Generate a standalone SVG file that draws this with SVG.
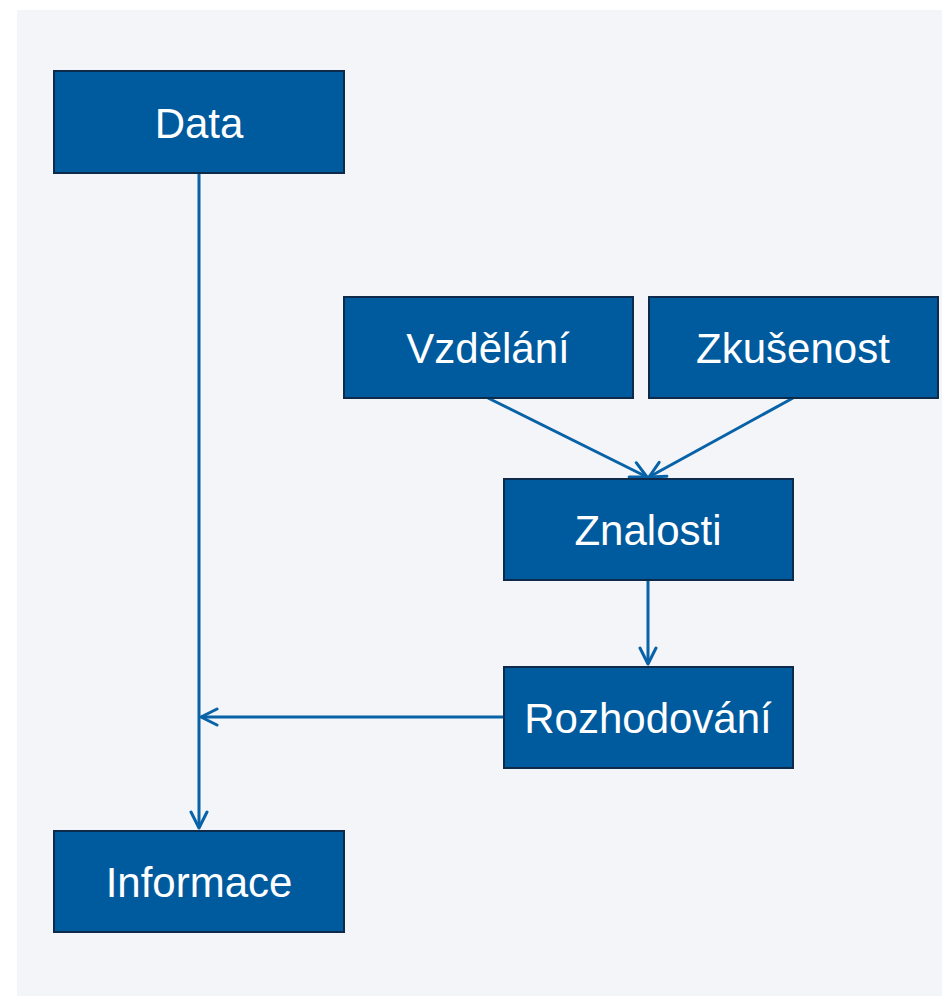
<svg xmlns="http://www.w3.org/2000/svg" width="942" height="996" viewBox="0 0 942 996">
<defs>
<style>
.box{fill:#005a9e;stroke:#0d2a4a;stroke-width:2}
.lbl{fill:#ffffff;font-family:"Liberation Sans",Arial,sans-serif;font-size:42px;text-anchor:middle;dominant-baseline:central}
.edge{stroke:#0762a8;stroke-width:3;fill:none}
</style>
<marker id="arr" viewBox="0 0 20 20" refX="18" refY="10" markerWidth="20" markerHeight="20" markerUnits="userSpaceOnUse" orient="auto">
<path d="M2,2 L18,10 L2,18" fill="none" stroke="#0762a8" stroke-width="3" stroke-linecap="round" stroke-linejoin="round"/>
</marker>
</defs>
<rect x="0" y="0" width="942" height="996" fill="#ffffff"/>
<rect x="17" y="10" width="925" height="986" fill="#f4f5f9"/>
<g id="connectors">
<line class="edge" x1="199" y1="173" x2="199" y2="828" marker-end="url(#arr)"/>
<line class="edge" x1="503" y1="717" x2="201" y2="717" marker-end="url(#arr)"/>
<line class="edge" x1="648" y1="580" x2="648" y2="664" marker-end="url(#arr)"/>
<line class="edge" x1="488" y1="398" x2="647" y2="477" marker-end="url(#arr)"/>
<line class="edge" x1="793" y1="398" x2="649" y2="477" marker-end="url(#arr)"/>
</g>
<g id="data"><rect class="box" x="54" y="71" width="290" height="102"/><text class="lbl" x="199" y="123">Data</text></g>
<g id="vzdelani"><rect class="box" x="344" y="297" width="289" height="101"/><text class="lbl" x="488" y="348">Vzdělání</text></g>
<g id="zkusenost"><rect class="box" x="649" y="297" width="289" height="101"/><text class="lbl" x="793" y="348">Zkušenost</text></g>
<g id="znalosti"><rect class="box" x="504" y="479" width="289" height="101"/><text class="lbl" x="648" y="530">Znalosti</text></g>
<g id="rozhodovani"><rect class="box" x="504" y="667" width="289" height="101"/><text class="lbl" x="648" y="718">Rozhodování</text></g>
<g id="informace"><rect class="box" x="54" y="831" width="290" height="101"/><text class="lbl" x="199" y="882">Informace</text></g>
</svg>
